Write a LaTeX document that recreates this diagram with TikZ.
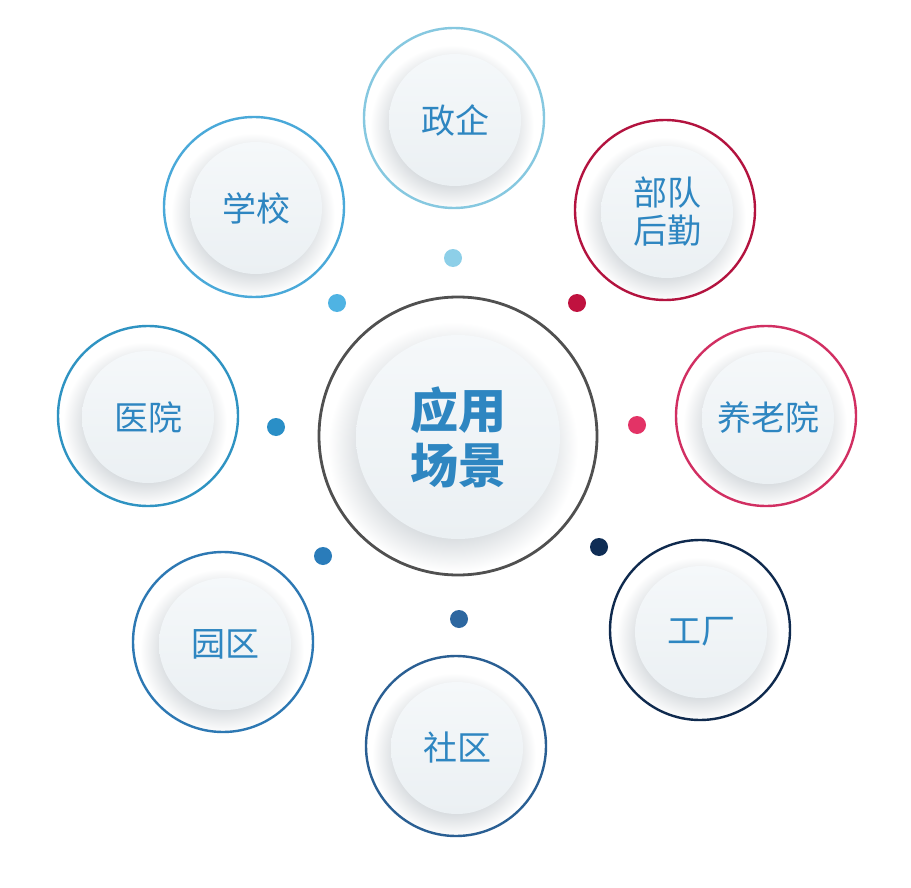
\documentclass[tikz,border=0pt]{standalone}
\usepackage{fontspec}
\newfontfamily\cjk{Noto Sans CJK SC}
\definecolor{discA}{HTML}{F5F8FA}
\definecolor{discB}{HTML}{EBF0F3}
\definecolor{shadowc}{HTML}{CFD4D8}
\definecolor{labelblue}{HTML}{2E86C1}
\definecolor{cZhengqi}{HTML}{86C8E0}
\definecolor{dZhengqi}{HTML}{8DCFE8}
\definecolor{cXuexiao}{HTML}{4AA9D9}
\definecolor{dXuexiao}{HTML}{4FB3E3}
\definecolor{cYiyuan}{HTML}{2F93C2}
\definecolor{dYiyuan}{HTML}{2A8FC7}
\definecolor{cYuanqu}{HTML}{2D78B3}
\definecolor{dYuanqu}{HTML}{2A7CBA}
\definecolor{cShequ}{HTML}{2A5F93}
\definecolor{dShequ}{HTML}{2D67A0}
\definecolor{cGongchang}{HTML}{0F2A4E}
\definecolor{dGongchang}{HTML}{0F2D55}
\definecolor{cYanglao}{HTML}{D12F62}
\definecolor{dYanglao}{HTML}{E33366}
\definecolor{cBudui}{HTML}{B3133F}
\definecolor{dBudui}{HTML}{C0123F}
\definecolor{cCenter}{HTML}{505050}
\pgfdeclareradialshading{softshadow}{\pgfpoint{0bp}{0bp}}{color(0bp)=(shadowc); color(16bp)=(shadowc); color(25bp)=(white); color(50bp)=(white)}
\begin{document}
\begin{tikzpicture}[x=1pt,y=-1pt,
  ring/.style={circle, draw=#1, line width=2.4pt, minimum size=180pt, inner sep=0pt},
  disc/.style={circle, minimum size=132pt, inner sep=0pt, top color=discA, bottom color=discB,
    align=center, text=labelblue, font=\cjk\fontsize{34pt}{38pt}\selectfont},
  shadowdisc/.style={shading=softshadow},
  dotmark/.style={circle, fill=#1, minimum size=18pt, inner sep=0pt}]
\useasboundingbox (0,0) rectangle (911,888);
\fill[white] (0,0) rectangle (911,888);
% shadows
\shade[shadowdisc] (453,447) circle (125);
\shade[shadowdisc] (452,127) circle (82);
\shade[shadowdisc] (664,219) circle (82);
\shade[shadowdisc] (765,425) circle (82);
\shade[shadowdisc] (698,639) circle (82);
\shade[shadowdisc] (454,755) circle (82);
\shade[shadowdisc] (222,651) circle (82);
\shade[shadowdisc] (145,424) circle (82);
\shade[shadowdisc] (253,215) circle (82);
% rings
\node[ring=cCenter, line width=2.8pt, minimum size=278pt] (cring) at (458,436) {};
\node[ring=cZhengqi] (r1) at (454,118) {};
\node[ring=cBudui] (r2) at (665,210) {};
\node[ring=cYanglao] (r3) at (766,416) {};
\node[ring=cGongchang] (r4) at (700,630) {};
\node[ring=cShequ] (r5) at (456,746) {};
\node[ring=cYuanqu] (r6) at (223,642) {};
\node[ring=cYiyuan] (r7) at (148,416) {};
\node[ring=cXuexiao] (r8) at (254,207) {};
% discs
\node[disc, minimum size=204pt, font=\cjk\bfseries\fontsize{48pt}{55pt}\selectfont] (center) at (458,437) {应用\\场景};
\node[disc] (n1) at (455,120) {政企};
\node[disc] (n2) at (667,212) {部队\\后勤};
\node[disc] (n3) at (768,418) {养老院};
\node[disc] (n4) at (701,632) {工厂};
\node[disc] (n5) at (457,748) {社区};
\node[disc] (n6) at (225,644) {园区};
\node[disc] (n7) at (148,417) {医院};
\node[disc] (n8) at (256,208) {学校};
% dots
\node[dotmark=dZhengqi] (d1) at (453,258) {};
\node[dotmark=dBudui] (d2) at (577,303) {};
\node[dotmark=dYanglao] (d3) at (637,425) {};
\node[dotmark=dGongchang] (d4) at (599,547) {};
\node[dotmark=dShequ] (d5) at (459,619) {};
\node[dotmark=dYuanqu] (d6) at (323,556) {};
\node[dotmark=dYiyuan] (d7) at (276,427) {};
\node[dotmark=dXuexiao] (d8) at (337,303) {};
\end{tikzpicture}
\end{document}
